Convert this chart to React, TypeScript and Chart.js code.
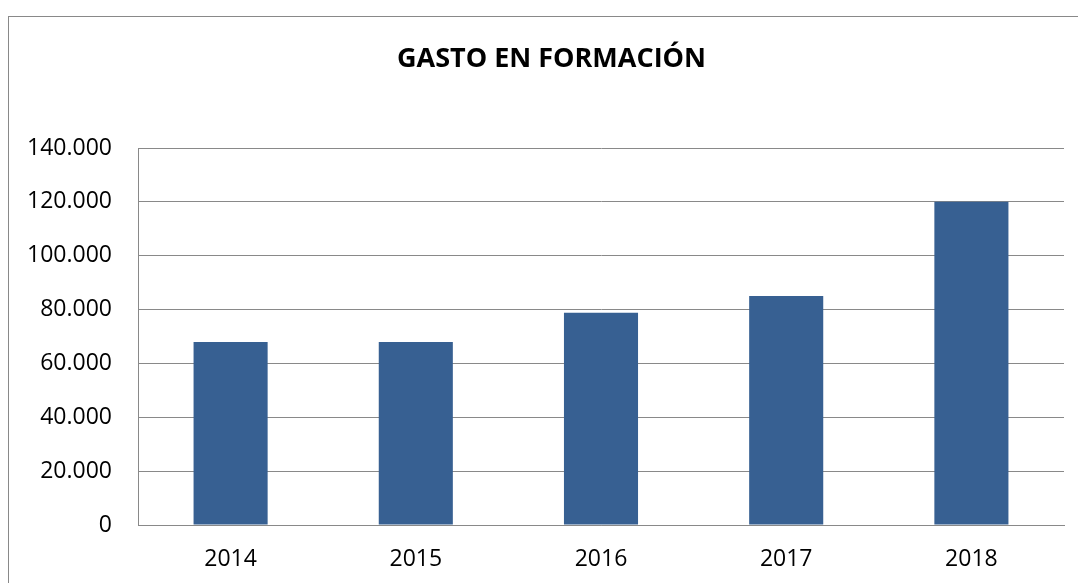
import React, { useEffect, useRef } from "react";
import { Chart, registerables } from "chart.js";

Chart.register(...registerables);

const categories: string[] = ["2014", "2015", "2016", "2017", "2018"];
const gasto: number[] = [68000, 68000, 78800, 85000, 120000];
const yMin = 0;
const yMax = 140000;
const yStep = 20000;
const chartTitle = "GASTO EN FORMACIÓN";

const fmt = (v: number): string =>
  String(Math.round(v)).replace(/\B(?=(\d{3})+(?!\d))/g, ".");

const frame = {
  id: "frame",
  beforeDraw(chart: any) {
    const ctx = chart.ctx;
    ctx.save();
    ctx.fillStyle = "#ffffff";
    ctx.fillRect(0, 0, chart.width, chart.height);
    ctx.strokeStyle = "#898989";
    ctx.lineWidth = 1;
    ctx.strokeRect(8.5, 16.5, 3000, 3000);
    ctx.restore();
  },
  afterLayout(chart: any) {
    const t = chart.titleBlock;
    if (t) {
      t.left = 39;
      t.right = chart.chartArea.right;
      t.width = t.right - t.left;
    }
  },
};

export default function App() {
  const ref = useRef<HTMLCanvasElement | null>(null);
  useEffect(() => {
    document.body.style.margin = "0";
    const el = ref.current;
    if (!el) return;
    const chart = new Chart(el, {
      type: "bar",
      data: {
        labels: categories,
        datasets: [
          {
            label: chartTitle,
            data: gasto,
            backgroundColor: "#376092",
            borderWidth: 0,
            categoryPercentage: 0.8,
            barPercentage: 0.5,
          },
        ],
      },
      options: {
        animation: false,
        responsive: false,
        maintainAspectRatio: false,
        layout: { padding: { left: 0, right: 14, top: 0, bottom: 0 } },
        plugins: {
          legend: { display: false },
          tooltip: { enabled: false },
          title: {
            display: true,
            text: chartTitle,
            color: "#000000",
            font: { family: "'Open Sans', sans-serif", size: 27, weight: "bold" },
            padding: { top: 43, bottom: 72.6 },
          },
        },
        scales: {
          x: {
            grid: { display: false, drawTicks: false },
            border: { display: true, color: "#898989", width: 1 },
            ticks: {
              color: "#000000",
              font: { family: "'Open Sans', sans-serif", size: 23 },
              padding: 21,
              maxRotation: 0,
            },
            afterFit: (s: any) => {
              s.height = 58;
            },
          },
          y: {
            min: yMin,
            max: yMax,
            grid: { color: "#898989", lineWidth: 1, drawTicks: false },
            border: { display: true, color: "#898989", width: 1 },
            ticks: {
              stepSize: yStep,
              color: "#000000",
              font: { family: "'Open Sans', sans-serif", size: 23 },
              padding: 26,
              callback: (v: any) => fmt(Number(v)),
            },
            afterFit: (s: any) => {
              s.width = 138;
            },
          },
        },
      },
      plugins: [frame],
    });
    return () => chart.destroy();
  }, []);
  return (
    <div style={{ position: "absolute", left: 0, top: 0, width: 1078, height: 583 }}>
      <canvas ref={ref} width={1078} height={583} style={{ display: "block" }} />
    </div>
  );
}
